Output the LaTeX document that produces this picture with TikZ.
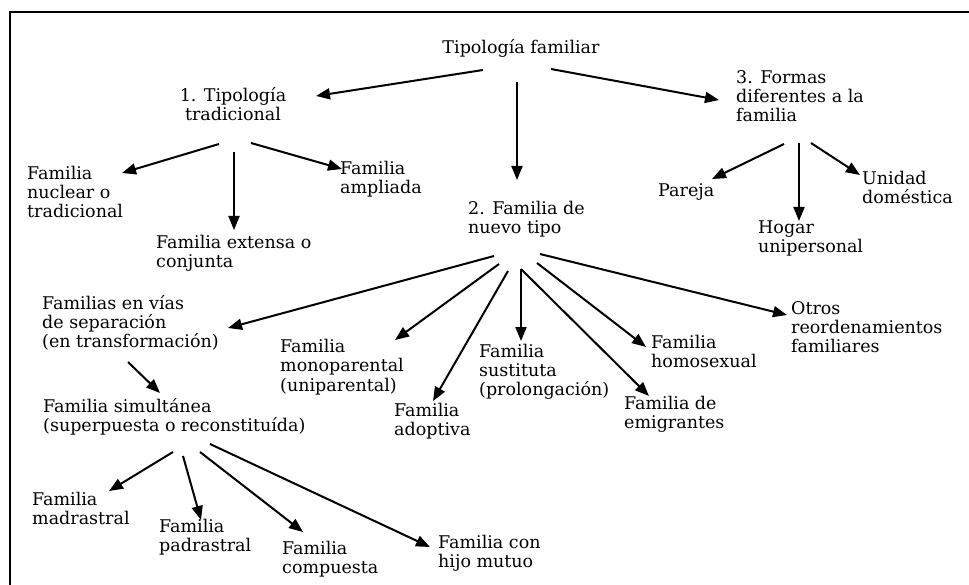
\documentclass[tikz,border=0pt]{standalone}
\usepackage{fontspec}
\setmainfont{DejaVu Serif}
\usepackage{tikz}
\usetikzlibrary{arrows.meta,positioning}

\begin{document}
\begin{tikzpicture}[
        x=1pt, y=-1pt,
        every node/.style={inner sep=0pt, font=\fontsize{17.5}{19.2}\selectfont},
        leaf/.style={align=left, anchor=west},
        head/.style={align=center},
        conn/.style={-{Triangle[length=14pt,width=11pt]}, line width=2pt}
    ]

    \useasboundingbox (0,0) rectangle (969,585);
    % Frame
    \draw[line width=2.2pt] (969,12) -- (10,12) -- (10,585);

    % Nodes
    \node (root) [head] at (521,48) {Tipología familiar};

    \node (trad) [head] at (233,104) {1. Tipología\\tradicional};
    \node (nuclear) [leaf] at (27,192) {Familia\\nuclear o\\tradicional};
    \node (extensa) [leaf] at (156,253.5) {Familia extensa o\\conjunta};
    \node (ampliada) [leaf] at (340,179.5) {Familia\\ampliada};

    \node (nuevo) [leaf] at (468,219.5) {2. Familia de\\nuevo tipo};
    \node (vias) [leaf] at (42,323) {Familias en vías\\de separación\\(en transformación)};
    \node (mono) [leaf] at (280,367) {Familia\\monoparental\\(uniparental)};
    \node (adopt) [leaf] at (394,421.5) {Familia\\adoptiva};
    \node (sust) [leaf] at (479,372) {Familia\\sustituta\\(prolongación)};
    \node (homo) [leaf] at (651,351.5) {Familia\\homosexual};
    \node (emig) [leaf] at (624,414.5) {Familia de\\emigrantes};
    \node (otros) [leaf] at (791,327) {Otros\\reordenamientos\\familiares};

    \node (simul) [leaf] at (43,417) {Familia simultánea\\(superpuesta o reconstituída)};
    \node (madr) [leaf] at (32,508.5) {Familia\\madrastral};
    \node (padr) [leaf] at (159,537) {Familia\\padrastral};
    \node (comp) [leaf] at (282,559) {Familia\\compuesta};
    \node (hijo) [leaf] at (438,553) {Familia con\\hijo mutuo};

    \node (formas) [leaf] at (736,96) {3. Formas\\diferentes a la\\familia};
    \node (pareja) [leaf] at (658,192) {Pareja};
    \node (hogar) [leaf] at (758,238.5) {Hogar\\unipersonal};
    \node (unidad) [leaf] at (862,187.5) {Unidad\\doméstica};

    % Edges
    \draw[conn] ([shift={(-38,22)}]root.center) -- ([shift={(83,-8)}]trad.center);
    \draw[conn] ([shift={(-4,34)}]root.center) -- ([shift={(49,-39.5)}]nuevo.west);
    \draw[conn] ([shift={(30,21)}]root.center) -- ([shift={(-17,4)}]formas.west);

    \draw[conn] ([shift={(-14,40)}]trad.center) -- ([shift={(95,-19)}]nuclear.west);
    \draw[conn] ([shift={(1,48)}]trad.center) -- ([shift={(78,-23.5)}]extensa.west);
    \draw[conn] ([shift={(18,39)}]trad.center) -- ([shift={(2,-10.5)}]ampliada.west);

    \draw[conn] ([shift={(48,48)}]formas.west) -- ([shift={(54,-13)}]pareja.west);
    \draw[conn] ([shift={(63,47)}]formas.west) -- ([shift={(41,-17.5)}]hogar.west);
    \draw[conn] ([shift={(75,47)}]formas.west) -- ([shift={(-2,-12.5)}]unidad.west);

    \draw[conn] ([shift={(26,36.5)}]nuevo.west) -- ([shift={(186,5)}]vias.west);
    \draw[conn] ([shift={(31,44.5)}]nuevo.west) -- ([shift={(115,-27)}]mono.west);
    \draw[conn] ([shift={(40,51.5)}]nuevo.west) -- ([shift={(39,-20.5)}]adopt.west);
    \draw[conn] ([shift={(53,49.5)}]nuevo.west) -- ([shift={(42,-31)}]sust.west);
    \draw[conn] ([shift={(53,49.5)}]nuevo.west) -- ([shift={(25,-18.5)}]emig.west);
    \draw[conn] ([shift={(69,43.5)}]nuevo.west) -- ([shift={(-5,-4.5)}]homo.west);
    \draw[conn] ([shift={(72,34.5)}]nuevo.west) -- ([shift={(-4,-12)}]otros.west);

    \draw[conn] ([shift={(86,39)}]vias.west) -- ([shift={(117,-24)}]simul.west);

    \draw[conn] ([shift={(130,35)}]simul.west) -- ([shift={(77,-17.5)}]madr.west);
    \draw[conn] ([shift={(140,39)}]simul.west) -- ([shift={(42,-17)}]padr.west);
    \draw[conn] ([shift={(157,35)}]simul.west) -- ([shift={(21,-27)}]comp.west);
    \draw[conn] ([shift={(167,27)}]simul.west) -- ([shift={(-8,-6)}]hijo.west);

\end{tikzpicture}
\end{document}
